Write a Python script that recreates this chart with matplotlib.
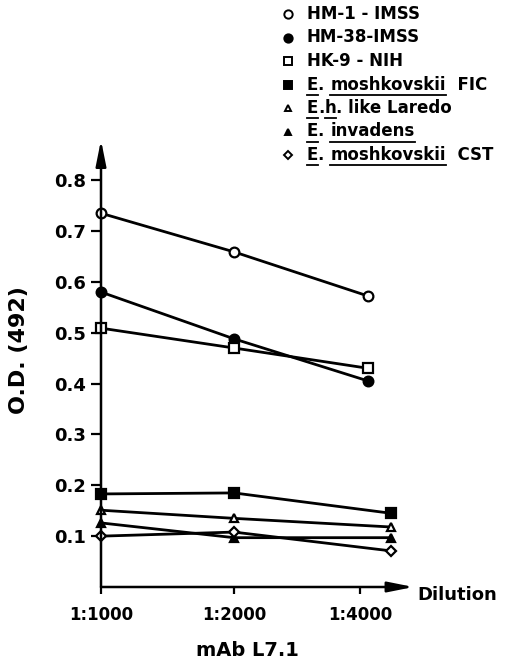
"""
O.D. (492) vs dilution of mAb L7.1 for several Entamoeba strains.
Black-and-white line chart with arrow axes and a hand-placed legend.
"""

import matplotlib
matplotlib.use("Agg")
import matplotlib.pyplot as plt
import matplotlib.lines as mlines

# ── DATA ──────────────────────────────────────────────────────────────────────

dilutions = ["1:1000", "1:2000", "1:4000"]
tick_pos = [0, 1, 1.95]

# the upper three curves end just right of the 1:4000 tick, the lower four further right
x_upper = [0, 1, 2.01]
x_lower = [0, 1, 2.18]

hm1_imss = [0.735, 0.659, 0.572]
hm38_imss = [0.580, 0.488, 0.405]
hk9_nih = [0.509, 0.470, 0.430]
emosh_fic = [0.183, 0.185, 0.145]
eh_laredo = [0.151, 0.135, 0.118]
e_invadens = [0.126, 0.097, 0.097]
emosh_cst = [0.100, 0.108, 0.071]

y_ticks = [0.1, 0.2, 0.3, 0.4, 0.5, 0.6, 0.7, 0.8]

# legend pieces: (text, underlined)
legend_rows = [
    ("o", "white", [("HM-1 - IMSS", False)]),
    ("o", "black", [("HM-38-IMSS", False)]),
    ("s", "white", [("HK-9 - NIH", False)]),
    ("s", "black", [("E", True), (". ", False), ("moshkovskii", True), ("  FIC", False)]),
    ("^", "white", [("E", True), (".", False), ("h", True), (". like Laredo", False)]),
    ("^", "black", [("E", True), (". ", False), ("invadens", True)]),
    ("D", "white", [("E", True), (". ", False), ("moshkovskii", True), ("  CST", False)]),
]

series = [
    (x_upper, hm1_imss, "o", "white"),
    (x_upper, hm38_imss, "o", "black"),
    (x_upper, hk9_nih, "s", "white"),
    (x_lower, emosh_fic, "s", "black"),
    (x_lower, eh_laredo, "^", "white"),
    (x_lower, e_invadens, "^", "black"),
    (x_lower, emosh_cst, "D", "white"),
]

# ── PLOT ──────────────────────────────────────────────────────────────────────

W, H = 510, 662
fig = plt.figure(figsize=(W / 100, H / 100), dpi=100)
fig.patch.set_facecolor("white")

ax = fig.add_axes([101 / W, 75 / H, 320 / W, 447 / H])
ax.set_xlim(0, 2.406)
ax.set_ylim(0, 0.879)

for x, y, mk, fc in series:
    ms = {"o": 7, "s": 7, "^": 5.5, "D": 5}[mk]
    ax.plot(x, y, color="black", linewidth=2.0, marker=mk, markersize=ms,
            markerfacecolor=fc, markeredgecolor="black", markeredgewidth=1.6,
            clip_on=False, zorder=3)

# arrow axes
for spine in ax.spines.values():
    spine.set_visible(False)
arrow = dict(arrowstyle="-|>,head_length=1.1,head_width=0.22", lw=1.8,
             color="black", shrinkA=0, shrinkB=0, mutation_scale=14)
ax.annotate("", xy=(0, 0.879), xytext=(0, 0), arrowprops=arrow,
            annotation_clip=False)
ax.annotate("", xy=(2.35, 0), xytext=(0, 0), arrowprops=arrow,
            annotation_clip=False)

ax.set_yticks(y_ticks)
ax.set_yticklabels([f"{v:.1f}" for v in y_ticks], fontsize=13,
                   fontweight="bold")
ax.set_xticks(tick_pos)
ax.set_xticklabels(dilutions, fontsize=12, fontweight="bold")
ax.tick_params(axis="y", direction="out", length=7, width=1.6, pad=4)
ax.tick_params(axis="x", direction="out", length=5, width=1.6, pad=9)

ax.set_ylabel("O.D. (492)", fontsize=16, fontweight="bold")
ax.yaxis.set_label_coords(-0.225, 0.53)
ax.text(2.38, -0.016, "Dilution", fontsize=13, fontweight="bold",
        ha="left", va="center", clip_on=False)
ax.text(1.1, -0.125, "mAb L7.1", fontsize=14, fontweight="bold",
        ha="center", va="center", clip_on=False)

# ── LEGEND (drawn by hand so parts of the names can be underlined) ───────────

fig.canvas.draw()
renderer = fig.canvas.get_renderer()

marker_x = 288 / W
text_x = 307 / W
for i, (mk, fc, pieces) in enumerate(legend_rows):
    y_px = 14 + 23.5 * i
    y = 1 - y_px / H
    ms = {"o": 6, "s": 5.5, "^": 5, "D": 4.5}[mk]
    fig.add_artist(mlines.Line2D([marker_x], [y], marker=mk, markersize=ms,
                                 markerfacecolor=fc, markeredgecolor="black",
                                 markeredgewidth=1.4, linestyle="none",
                                 transform=fig.transFigure))
    x = text_x
    for txt, under in pieces:
        t = fig.text(x, y, txt, fontsize=12, fontweight="bold",
                     ha="left", va="center")
        bb = t.get_window_extent(renderer)
        if under:
            uy = (bb.y0 - 1) / H
            fig.add_artist(mlines.Line2D([bb.x0 / W, bb.x1 / W], [uy, uy],
                                         color="black", linewidth=1.3,
                                         transform=fig.transFigure))
        x = bb.x1 / W

fig.savefig("out.png", dpi=100, facecolor="white")
